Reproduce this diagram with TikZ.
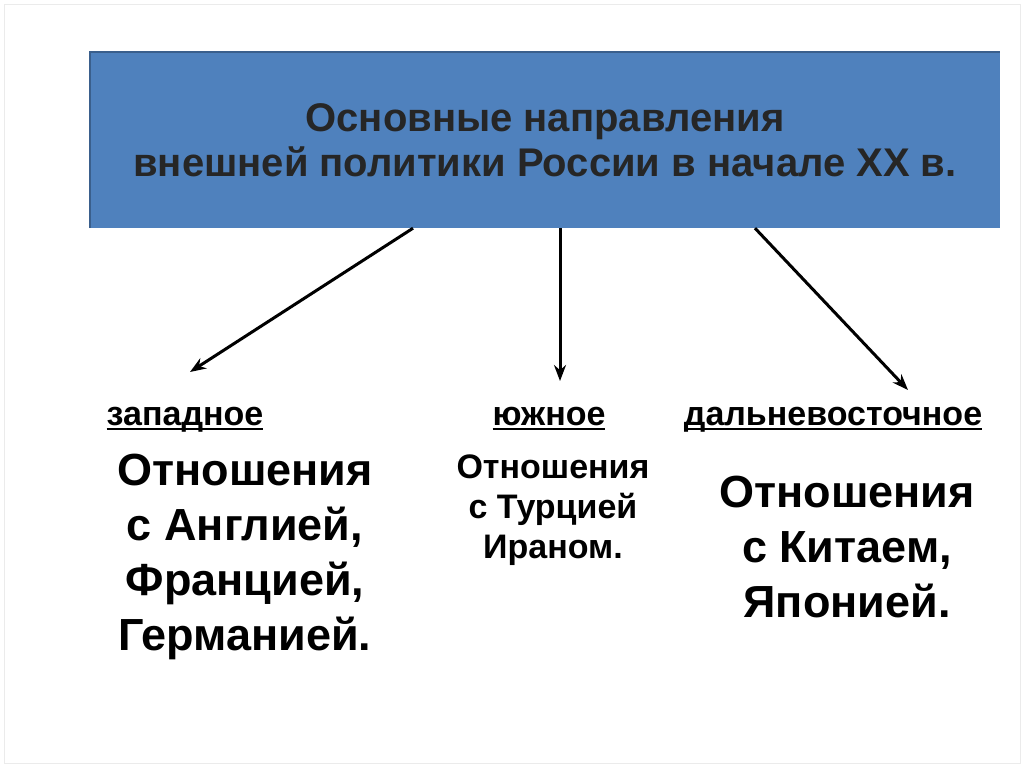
\documentclass[tikz,border=0pt]{standalone}
\usepackage{fontspec}
\setmainfont{Liberation Sans}
\usetikzlibrary{arrows.meta,positioning}
\definecolor{hdrBlue}{HTML}{4F81BD}
\definecolor{hdrEdge}{HTML}{3A5F8C}
\definecolor{hdrText}{HTML}{262626}
\newcommand{\ulbold}[1]{\setbox0\hbox{#1}\rlap{\rule[-5pt]{\wd0}{2.5pt}}\box0}

\begin{document}
\begin{tikzpicture}[x=1pt, y=-1pt,
  hdr/.style={fill=hdrBlue, minimum width=910pt, minimum height=176pt, inner sep=0pt,
    align=center, text=hdrText, font=\fontsize{40}{45}\selectfont\bfseries},
  dir/.style={inner sep=0pt, anchor=base, font=\fontsize{34}{38}\selectfont\bfseries},
  rel/.style={align=center, inner sep=0pt, font=\fontsize{45}{55}\selectfont\bfseries},
  relsm/.style={rel, font=\fontsize{34}{40}\selectfont\bfseries},
  arr/.style={-{Stealth[length=16pt,width=12pt]}, line width=3pt}]
\useasboundingbox (0,0) rectangle (1024,767);
\draw[black!8] (4,4) rectangle (1020,763);
% header
\node[hdr] (hdr) at (545,140) {Основные направления\\внешней политики России в начале ХХ в.};
\draw[hdrEdge, line width=1.5pt] (hdr.south west) -- (hdr.north west) -- (hdr.north east);
% directions
\node[dir] (west) at (185,425) {\ulbold{западное}};
\node[dir] (south) at (549,425) {\ulbold{южное}};
\node[dir] (east) at (833,425) {\ulbold{дальневосточное}};
\coordinate (westTip) at (190,372);
\coordinate (southTip) at (560,381);
\coordinate (eastTip) at (908,390);
\draw[arr] ([xshift=-132pt]hdr.south) -- (westTip);
\draw[arr] ([xshift=15pt]hdr.south) -- (southTip);
\draw[arr] ([xshift=210pt]hdr.south) -- (eastTip);
% relations
\node[rel] (westRel) at (245,557) {Отношения\\с Англией,\\Францией,\\Германией.};
\node[relsm] (southRel) at (553,510) {Отношения\\с Турцией\\Ираном.};
\node[rel] (eastRel) at (847,547) {Отношения\\с Китаем,\\Японией.};
\end{tikzpicture}
\end{document}
